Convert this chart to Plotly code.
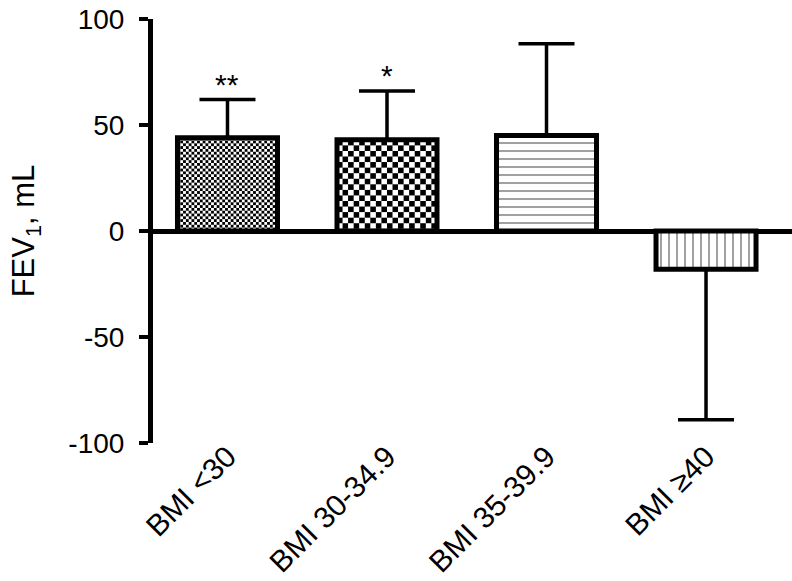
import base64
import plotly.graph_objects as go

# Данные
categories = ["BMI <30", "BMI 30-34.9", "BMI 35-39.9", "BMI ≥40"]
means = [44, 43, 45, -18]
err_up = [18, 23, 43.3, 0]
err_down = [0, 0, 0, 71]
stars = ["**", "*", "", ""]
y_ticks = [-100, -50, 0, 50, 100]
y_ticktext = ["-100", "-50", "0", "50", "100"]

# Заливка: шахматка (размер клетки, px) или штриховка plotly
checker_cell = [2.8, 5.55, None, None]
hatch = ["", "", "-", "|"]

x = list(range(len(categories)))
bw = 0.627
px_per_unit = 424 / 200
FONT = "Liberation Sans, Arial, sans-serif"


def checker_src(cell, w, h):
    c2 = 2 * cell
    svg = (f'<svg xmlns="http://www.w3.org/2000/svg" width="{w}" height="{h}" '
           f'viewBox="0 0 {w} {h}" preserveAspectRatio="none"><defs>'
           f'<pattern id="p" width="{c2}" height="{c2}" patternUnits="userSpaceOnUse">'
           f'<rect width="{c2}" height="{c2}" fill="white"/>'
           f'<rect width="{cell}" height="{cell}" fill="black"/>'
           f'<rect x="{cell}" y="{cell}" width="{cell}" height="{cell}" fill="black"/>'
           f'</pattern></defs><rect width="{w}" height="{h}" fill="url(#p)"/></svg>')
    return "data:image/svg+xml;base64," + base64.b64encode(svg.encode()).decode()


colors = ["rgba(0,0,0,0)" if c else "white" for c in checker_cell]

fig = go.Figure(go.Bar(
    x=x, y=means, width=bw,
    marker=dict(color=colors,
                line=dict(color="black", width=5),
                pattern=dict(shape=hatch, fgcolor="black", bgcolor="white",
                             size=8, solidity=0.25)),
    error_y=dict(type="data", symmetric=False, array=err_up, arrayminus=err_down,
                 color="black", thickness=3.5, width=28),
))

# Шахматная заливка — картинкой под столбиком
images = []
for i, (m, cell) in enumerate(zip(means, checker_cell)):
    if not cell:
        continue
    w = round(bw * 159.5)
    h = round(abs(m) * px_per_unit)
    images.append(dict(source=checker_src(cell, w, h), xref="x", yref="y",
                       x=i - bw / 2, y=max(m, 0), sizex=bw, sizey=abs(m),
                       xanchor="left", yanchor="top", sizing="stretch", layer="below"))

annotations = []
for i, s in enumerate(stars):
    if s:
        annotations.append(dict(x=i, y=means[i] + err_up[i], text=s, showarrow=False,
                                xref="x", yref="y", yanchor="bottom", yshift=-3,
                                font=dict(size=30, color="black", family=FONT)))

fig.update_layout(
    width=792, height=581,
    margin=dict(l=153, r=0, t=19, b=138),
    paper_bgcolor="white", plot_bgcolor="rgba(0,0,0,0)",
    showlegend=False,
    font=dict(family=FONT, color="black", size=28),
    images=images,
    annotations=annotations,
    xaxis=dict(range=[-0.467, 3.539], tickvals=x, ticktext=categories,
               tickangle=-45, showline=False, ticks="", showgrid=False,
               zeroline=False, tickfont=dict(size=30), automargin=False,
               ticklabelstandoff=-11),
    yaxis=dict(range=[-100, 100], tickvals=y_ticks, ticktext=y_ticktext,
               showline=True, linewidth=5, linecolor="black",
               ticks="outside", ticklen=9, tickwidth=4, tickcolor="black",
               showgrid=False, zeroline=True, zerolinewidth=5, zerolinecolor="black",
               tickfont=dict(size=28), automargin=False, ticklabelstandoff=9,
               title=dict(text="FEV<sub>1</sub>, mL", font=dict(size=31), standoff=26)),
)

# убираем отступ страницы, чтобы рисунок начинался с левого верхнего угла
fig.write_html("out.html", config={"displayModeBar": False},
               post_script="document.body.style.margin='0';document.body.style.overflow='hidden';")
